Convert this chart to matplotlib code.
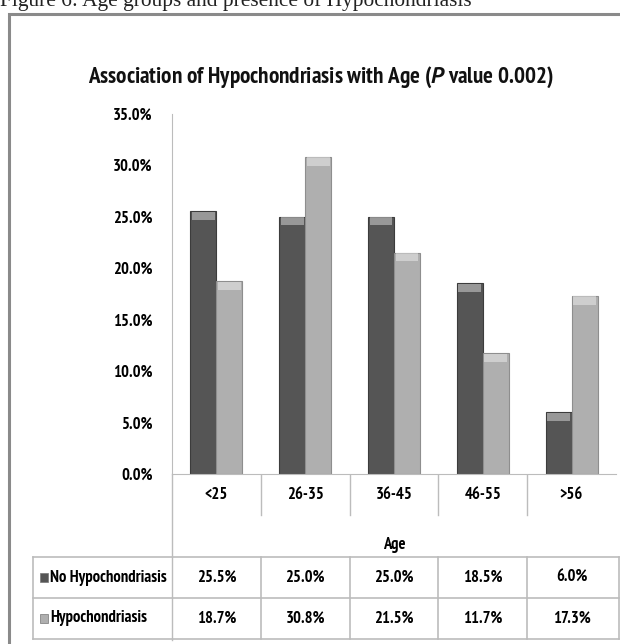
import numpy as np
import matplotlib
matplotlib.use("Agg")
import matplotlib.pyplot as plt
from matplotlib.patches import Rectangle

# --- data ---
age_groups = ["<25", "26-35", "36-45", "46-55", ">56"]
no_hypo = [25.5, 25.0, 25.0, 18.5, 6.0]
hypo = [18.7, 30.8, 21.5, 11.7, 17.3]
series_names = ["No Hypochondriasis", "Hypochondriasis"]
y_ticks = [0, 5, 10, 15, 20, 25, 30, 35]

DARK = "#555555"
LIGHT = "#afafaf"
GRID = "#bcbcbc"
BODY = ["PT Sans Narrow", "Roboto Condensed", "DejaVu Sans"]

plt.rcParams["font.family"] = BODY
plt.rcParams["mathtext.fontset"] = "custom"
plt.rcParams["mathtext.it"] = "PT Sans:italic:bold"
plt.rcParams["mathtext.rm"] = "PT Sans Narrow:bold"

W, H = 620, 644
fig = plt.figure(figsize=(W / 100, H / 100), dpi=100)


def fit(t, target):
    # scale a text's font size so it spans `target` pixels
    fig.canvas.draw()
    w = t.get_window_extent(fig.canvas.get_renderer()).width
    t.set_fontsize(t.get_fontsize() * target / w)
    return t.get_fontsize()


# overlay in pixel coords for frame, title and data table
ov = fig.add_axes([0, 0, 1, 1])
ov.set_xlim(0, W)
ov.set_ylim(H, 0)
ov.axis("off")

# caption cut off at the top of the crop
cap = ov.text(0, 6, "Figure 6: Age groups and presence of Hypochondriasis",
              family="Liberation Serif", fontsize=15, va="baseline", ha="left",
              color="#222222")
fit(cap, 472)

# outer chart frame
ov.plot([9, 9, W + 5], [H + 5, 14, 14], color="#8a8a8a", lw=2.2,
        solid_joinstyle="miter")

title = ov.text(321, 77,
                r"Association of Hypochondriasis with Age ($\mathit{P}$ value 0.002)",
                ha="center", va="center", fontsize=20,
                fontweight="bold", color="#111111")
fit(title, 464)

# body font size from the legend label width in the table
probe = ov.text(50, 577, series_names[0], ha="left", va="center", fontsize=13,
                fontweight="bold")
fs = fit(probe, 117)
probe.remove()

# --- bar chart ---
x0, x1 = 172, 616
y_top, y_bot = 113.5, 474
ax = fig.add_axes([x0 / W, 1 - y_bot / H, (x1 - x0) / W, (y_bot - y_top) / H])
ax.set_xlim(-0.5, len(age_groups) - 0.5)
ax.set_ylim(0, 35)
x = np.arange(len(age_groups))
bw = 0.293
for vals, off, col, edge in [(no_hypo, -bw / 2, DARK, "#3c3c3c"),
                             (hypo, bw / 2, LIGHT, "#8e8e8e")]:
    ax.bar(x + off, vals, width=bw, color=col, edgecolor=edge, linewidth=0.8, zorder=2)
    # bevel highlight on bar tops
    caps = [0.8] * len(vals)
    ax.bar(x + off, caps, width=bw * 0.88, bottom=np.array(vals) - 0.85,
           color="white", alpha=0.4, linewidth=0, zorder=3)

ax.set_yticks(y_ticks)
ax.set_yticklabels([f"{v:.1f}%" for v in y_ticks], fontsize=fs, fontweight="bold")
ax.tick_params(axis="y", length=0, pad=14)
ax.set_xticks([])
for s in ["top", "right"]:
    ax.spines[s].set_visible(False)
ax.spines["left"].set_color(GRID)
ax.spines["bottom"].set_color(GRID)

# --- category row + table below the axes ---
col_w = (x1 - x0) / len(age_groups)
for i, lab in enumerate(age_groups):
    cx = x0 + (i + 0.5) * col_w
    ov.text(cx, 495, lab, ha="center", va="center", fontsize=fs, fontweight="bold")
    if i > 0:
        ov.plot([x0 + i * col_w] * 2, [474, 515], color=GRID, lw=1)
ov.plot([x0, x0], [474, 640], color=GRID, lw=1)
ov.text((x0 + x1) / 2, 545, "Age", ha="center", va="center", fontsize=fs,
        fontweight="bold")

rows = [557, 598, 639]
tbl_left = 33
for ry in rows:
    ov.plot([tbl_left, x1 + 3], [ry, ry], color=GRID, lw=1.2)
for cx in [tbl_left] + [x0 + i * col_w for i in range(1, len(age_groups))] + [x1 + 3]:
    ov.plot([cx, cx], [rows[0], rows[-1]], color=GRID, lw=1.2)

for r, (name, vals, col) in enumerate([(series_names[0], no_hypo, DARK),
                                       (series_names[1], hypo, LIGHT)]):
    cy = (rows[r] + rows[r + 1]) / 2
    ov.add_patch(Rectangle((40, cy - 5), 8, 9, facecolor=col, edgecolor="#777777", lw=0.5))
    ov.text(50, cy, name, ha="left", va="center", fontsize=fs, fontweight="bold")
    for i, v in enumerate(vals):
        ov.text(x0 + (i + 0.5) * col_w, cy, f"{v:.1f}%", ha="center", va="center",
                fontsize=fs, fontweight="bold")

fig.savefig("out.png", dpi=100)
